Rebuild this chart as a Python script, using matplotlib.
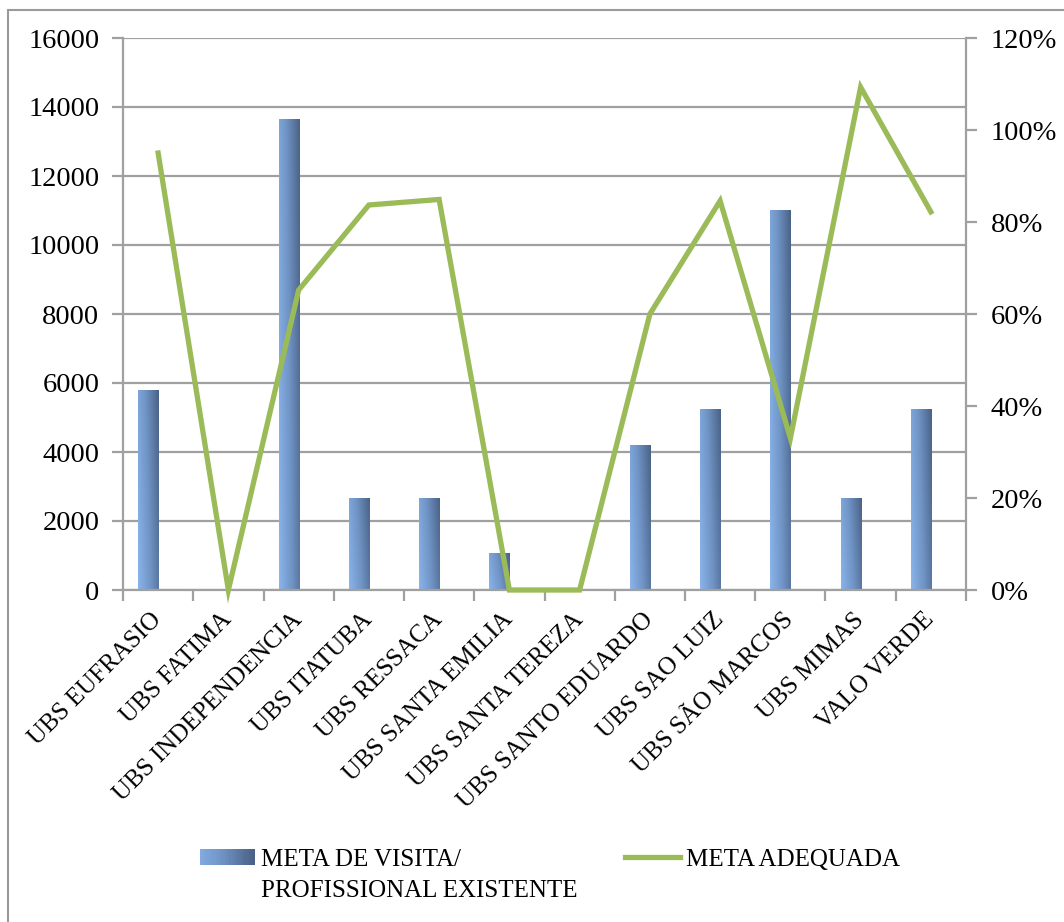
import numpy as np
import matplotlib
matplotlib.use("Agg")
import matplotlib.pyplot as plt
from matplotlib.colors import LinearSegmentedColormap
from matplotlib.patches import Rectangle
from matplotlib.container import BarContainer
from matplotlib.legend_handler import HandlerBase
from matplotlib.ticker import FixedLocator, PercentFormatter

# ---------------- data ----------------
categories = ["UBS EUFRASIO", "UBS FATIMA", "UBS INDEPENDENCIA", "UBS ITATUBA",
              "UBS RESSACA", "UBS SANTA EMILIA", "UBS SANTA TEREZA",
              "UBS SANTO EDUARDO", "UBS SAO LUIZ", "UBS SÃO MARCOS",
              "UBS MIMAS", "VALO VERDE"]
meta_visita = [5770, 0, 13650, 2640, 2640, 1045, 0, 4200, 5240, 11010, 2640, 5240]
meta_adequada = [0.95, 0.0, 0.652, 0.837, 0.849, 0.0, 0.0, 0.60, 0.846, 0.33, 1.093, 0.822]
bar_label_lines = ["META DE VISITA/", "PROFISSIONAL EXISTENTE"]
line_label = "META ADEQUADA"
left_ticks = [0, 2000, 4000, 6000, 8000, 10000, 12000, 14000, 16000]
right_ticks = [0, 0.2, 0.4, 0.6, 0.8, 1.0, 1.2]

# ---------------- style ----------------
FONT = ["Liberation Serif", "DejaVu Serif"]
plt.rcParams["font.family"] = FONT
GRID = "#a0a0a0"
GREEN = "#9bbb59"
LIGHT = "#8ab4ea"
DARK = "#4a6286"
cmap = LinearSegmentedColormap.from_list("barg", [LIGHT, "#6f93c4", DARK])

W, H = 1064, 922
fig = plt.figure(figsize=(W / 100, H / 100), dpi=100)

# outer frame
fig.patches.append(Rectangle((8 / W, -0.05), 1.2, 1 - 10 / H + 0.05, transform=fig.transFigure,
                             fill=False, edgecolor="#9a9a9a", linewidth=1.5))

ax = fig.add_axes([123 / W, 1 - 590 / H, (966 - 123) / W, (590 - 38) / H])
x = np.arange(len(categories))
bw = 1 / 3.5
bars = ax.bar(x - bw / 2, meta_visita, width=bw, color=LIGHT, zorder=2)

# gradient fill for each bar
gx = np.linspace(0, 1, 64)[None, :]
gy = np.linspace(1, 0, 64)[:, None]
grad = 0.78 * gx + 0.22 * gy
for r in bars.patches:
    h = r.get_height()
    if h <= 0:
        r.set_visible(False)
        continue
    x0 = r.get_x()
    ax.imshow(grad, extent=(x0, x0 + r.get_width(), 0, h), aspect="auto",
              cmap=cmap, vmin=0, vmax=1, interpolation="bilinear", zorder=2)
    r.set_visible(False)

ax.set_xlim(-0.5, len(categories) - 0.5)
ax.set_ylim(0, 16000)
ax.set_yticks(left_ticks)
ax.set_yticklabels([str(v) for v in left_ticks])
ax.yaxis.grid(True, color=GRID, linewidth=1.6, zorder=0)
ax.set_axisbelow(True)

ax.set_xticks(x)
ax.set_xticklabels(categories, rotation=45, ha="right", va="center", rotation_mode="anchor")
ax.xaxis.set_minor_locator(FixedLocator(np.arange(-0.5, len(categories), 1)))
ax.tick_params(axis="x", which="major", length=0, pad=19, labelsize=18)
ax.tick_params(axis="x", which="minor", length=8, width=1.6, color=GRID, direction="out")
ax.tick_params(axis="y", length=8, width=1.6, color=GRID, direction="out", pad=9, labelsize=20.5)

for s in ["top", "right"]:
    ax.spines[s].set_visible(False)
for s in ["left", "bottom"]:
    ax.spines[s].set_color(GRID)
    ax.spines[s].set_linewidth(1.6)

# secondary axis
ax2 = ax.twinx()
line, = ax2.plot(x, meta_adequada, color=GREEN, linewidth=3.8, solid_joinstyle="miter",
                 zorder=3, clip_on=False)
ax2.set_ylim(0, 1.2)
ax2.set_yticks(right_ticks)
ax2.yaxis.set_major_formatter(PercentFormatter(1.0, decimals=0))
ax2.tick_params(axis="y", length=8, width=1.6, color=GRID, direction="out", pad=10, labelsize=20.5)
for s in ["top", "left", "bottom"]:
    ax2.spines[s].set_visible(False)
ax2.spines["right"].set_color(GRID)
ax2.spines["right"].set_linewidth(1.6)


class GradientHandler(HandlerBase):
    def create_artists(self, legend, orig_handle, xdescent, ydescent, width, height,
                       fontsize, trans):
        arts = []
        n = 24
        for i in range(n):
            c = cmap(0.15 + 0.85 * i / (n - 1))
            rr = Rectangle((-xdescent + width * i / n, -ydescent), width / n + 0.3, height,
                           facecolor=c, edgecolor="none", transform=trans)
            arts.append(rr)
        return arts


leg = fig.legend(handles=[bars, line], labels=[bar_label_lines[0], line_label], ncol=2,
                 loc="upper left", bbox_to_anchor=(177 / W, 1 - 826 / H),
                 frameon=False, fontsize=18, handlelength=2.2, handleheight=0.6,
                 handletextpad=0.25, columnspacing=6.55,
                 handler_map={BarContainer: GradientHandler()})

fig.canvas.draw()
tb = leg.get_texts()[0].get_window_extent()
fig.text(tb.x0 / W, (tb.y0 - 31) / H, bar_label_lines[1], fontsize=18,
         ha="left", va="bottom")

fig.savefig("out.png", dpi=100)
